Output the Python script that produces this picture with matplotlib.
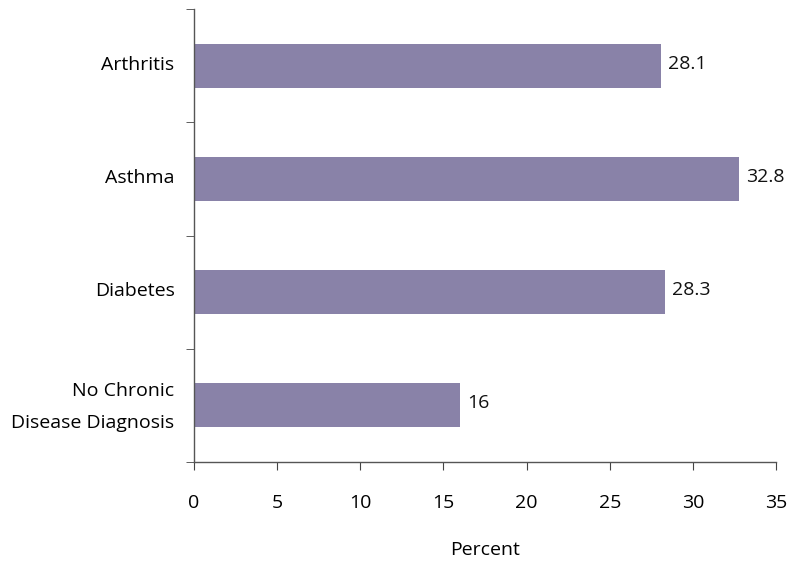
import matplotlib
matplotlib.use("Agg")
import matplotlib.pyplot as plt
import matplotlib.transforms as mtransforms
import numpy as np

categories = ["Arthritis", "Asthma", "Diabetes", "No Chronic\nDisease Diagnosis"]
values = [28.1, 32.8, 28.3, 16]
xticks = [0, 5, 10, 15, 20, 25, 30, 35]

plt.rcParams["font.family"] = ["Open Sans", "DejaVu Sans"]
FS = 14

fig = plt.figure(figsize=(7.88, 5.63), dpi=100)
ax = fig.add_axes([194 / 788, 1 - 462 / 563, (776 - 194) / 788, (462 - 9) / 563])

bar_color = "#8982A8"
pos = np.arange(len(categories))
ax.barh(pos, values, height=0.39, color=bar_color)
ax.set_ylim(len(categories) - 0.5, -0.5)
ax.set_xlim(0, 35)

for p, v in zip(pos, values):
    ax.annotate(f"{v:g}", (v, p), xytext=(5, 1.5), textcoords="offset points",
                va="center", ha="left", fontsize=FS, color="#111111")

ax.set_yticks(pos)
ax.set_yticklabels(categories, fontsize=FS, linespacing=2.0)
ax.tick_params(axis="y", length=0, pad=14)
ax.set_yticks(np.arange(-0.5, len(categories)), minor=True)
ax.tick_params(axis="y", which="minor", length=6, direction="out", color="#444444")

# nudge category labels slightly upward
shift = mtransforms.ScaledTranslation(0, 3 / 100, fig.dpi_scale_trans)
for lbl in ax.get_yticklabels():
    extra = 4 / 100 if "\n" in lbl.get_text() else 0
    lbl.set_transform(lbl.get_transform()
                      + shift
                      + mtransforms.ScaledTranslation(0, extra, fig.dpi_scale_trans))

ax.set_xticks(xticks)
ax.set_xticklabels([str(t) for t in xticks], fontsize=FS)
ax.tick_params(axis="x", length=6, direction="out", color="#444444", pad=17)
ax.set_xlabel("Percent", fontsize=FS, labelpad=21)

for s in ["top", "right"]:
    ax.spines[s].set_visible(False)
for s in ["left", "bottom"]:
    ax.spines[s].set_color("#555555")
    ax.spines[s].set_linewidth(1.0)

fig.savefig("out.png", dpi=100)
